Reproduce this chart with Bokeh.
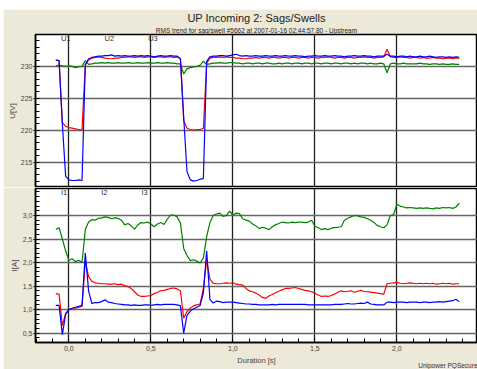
import numpy as np
from bokeh.plotting import figure
from bokeh.layouts import column
from bokeh.models import Range1d, FixedTicker, Title, Legend, LegendItem
from bokeh.embed import file_html
from bokeh.resources import INLINE

# ---------------- data ----------------
# sample times [s]: -0.08 ... 2.38, every 0.02 s
t = np.round(-0.08 + 0.02 * np.arange(124), 2)

u1_red = [
    231.0, 230.9, 221.2, 220.6, 220.4, 220.3, 220.2, 220.1, 220.0, 230.2,
    231.0, 231.3, 231.4, 231.5, 231.4, 231.3, 231.2, 231.2, 231.3, 231.3,
    231.4, 231.4, 231.5, 231.5, 231.4, 231.5, 231.5, 231.4, 231.5, 231.5,
    231.4, 231.5, 231.5, 231.4, 231.5, 231.5, 231.4, 231.5, 231.2, 221.5,
    220.3, 220.1, 220.0, 220.1, 220.1, 220.3, 230.5, 231.3, 231.4, 231.4,
    231.5, 231.4, 231.5, 231.4, 231.4, 231.3, 231.3, 231.2, 231.2, 231.3,
    231.3, 231.4, 231.3, 231.4, 231.4, 231.3, 231.4, 231.4, 231.3, 231.4,
    231.4, 231.3, 231.4, 231.4, 231.3, 231.4, 231.4, 231.3, 231.4, 231.4,
    231.3, 231.4, 231.4, 231.5, 231.4, 231.3, 231.4, 231.4, 231.3, 231.4,
    231.4, 231.3, 231.4, 231.4, 231.5, 231.4, 231.4, 231.3, 231.4, 231.4,
    231.5, 232.7, 231.5, 231.4, 231.4, 231.5, 231.4, 231.4, 231.3, 231.4,
    231.4, 231.3, 231.4, 231.3, 231.3, 231.4, 231.3, 231.3, 231.2, 231.3,
    231.3, 231.2, 231.3, 231.3,
]
u2_blue = [
    231.0, 230.9, 221.0, 212.8, 212.2, 212.1, 212.1, 212.2, 212.1, 230.3,
    231.2, 231.4, 231.5, 231.6, 231.6, 231.7, 231.7, 231.8, 231.6, 231.7,
    231.6, 231.7, 231.6, 231.6, 231.7, 231.6, 231.7, 231.6, 231.7, 231.6,
    231.5, 231.6, 231.7, 231.6, 231.6, 231.7, 231.6, 231.6, 231.2, 222.0,
    213.5, 212.2, 212.0, 212.1, 212.3, 212.4, 230.8, 231.5, 231.6, 231.6,
    231.7, 231.7, 231.6, 231.7, 231.8, 231.9, 231.7, 231.6, 231.7, 231.6,
    231.6, 231.7, 231.6, 231.6, 231.7, 231.6, 231.6, 231.7, 231.6, 231.6,
    231.7, 231.6, 231.6, 231.7, 231.6, 231.6, 231.5, 231.6, 231.6, 231.7,
    231.6, 231.6, 231.7, 231.6, 231.6, 231.7, 231.6, 231.6, 231.5, 231.6,
    231.6, 231.7, 231.6, 231.6, 231.7, 231.6, 231.6, 231.5, 231.6, 231.6,
    231.6, 231.9, 231.6, 231.6, 231.5, 231.6, 231.6, 231.5, 231.6, 231.5,
    231.5, 231.6, 231.5, 231.5, 231.6, 231.5, 231.4, 231.5, 231.5, 231.4,
    231.5, 231.4, 231.5, 231.4,
]
u3_green = [
    230.1, 230.2, 230.1, 230.0, 230.1, 230.0, 229.8, 229.9, 230.0, 230.9,
    230.3, 230.4, 230.5, 230.5, 230.6, 230.5, 230.6, 230.5, 230.5, 230.6,
    230.5, 230.5, 230.6, 230.5, 230.5, 230.6, 230.5, 230.5, 230.6, 230.5,
    230.5, 230.6, 230.5, 230.5, 230.6, 230.5, 230.5, 230.4, 230.4, 228.8,
    229.6, 229.8, 229.9, 230.0, 230.2, 230.8, 230.3, 230.4, 230.5, 230.5,
    230.6, 230.5, 230.5, 230.6, 230.6, 230.5, 230.5, 230.4, 230.5, 230.5,
    230.4, 230.5, 230.5, 230.4, 230.5, 230.5, 230.4, 230.4, 230.5, 230.4,
    230.5, 230.5, 230.4, 230.5, 230.5, 230.4, 230.5, 230.5, 230.4, 230.5,
    230.5, 230.4, 230.5, 230.5, 230.4, 230.5, 230.5, 230.4, 230.5, 230.5,
    230.4, 230.5, 230.4, 230.5, 230.5, 230.4, 230.5, 230.4, 230.4, 230.5,
    230.4, 229.0, 230.4, 230.5, 230.4, 230.4, 230.5, 230.4, 230.4, 230.4,
    230.4, 230.5, 230.4, 230.4, 230.3, 230.4, 230.4, 230.3, 230.4, 230.3,
    230.3, 230.4, 230.3, 230.3,
]

i1_red = [
    1.34, 1.33, 0.66, 0.92, 1.00, 1.03, 1.03, 1.05, 1.07, 2.02,
    1.70, 1.60, 1.57, 1.56, 1.55, 1.55, 1.54, 1.54, 1.55, 1.53,
    1.54, 1.51, 1.49, 1.45, 1.38, 1.31, 1.28, 1.28, 1.29, 1.30,
    1.34, 1.37, 1.40, 1.41, 1.43, 1.45, 1.46, 1.44, 1.40, 0.82,
    0.96, 1.03, 1.08, 1.10, 1.12, 1.45, 2.05, 1.65, 1.56, 1.55,
    1.55, 1.56, 1.57, 1.56, 1.57, 1.54, 1.53, 1.52, 1.45, 1.40,
    1.38, 1.35, 1.31, 1.26, 1.24, 1.29, 1.32, 1.36, 1.39, 1.42,
    1.45, 1.45, 1.46, 1.47, 1.45, 1.43, 1.41, 1.40, 1.38, 1.35,
    1.31, 1.28, 1.29, 1.28, 1.30, 1.33, 1.37, 1.40, 1.38, 1.39,
    1.40, 1.37, 1.39, 1.41, 1.39, 1.38, 1.37, 1.36, 1.35, 1.34,
    1.33, 1.55, 1.56, 1.57, 1.58, 1.56, 1.55, 1.56, 1.57, 1.56,
    1.55, 1.56, 1.55, 1.56, 1.55, 1.56, 1.54, 1.55, 1.56, 1.55,
    1.56, 1.54, 1.55, 1.55,
]
i2_blue = [
    1.09, 1.09, 0.47, 0.90, 1.00, 1.03, 1.05, 1.07, 1.09, 2.20,
    1.40, 1.13, 1.15, 1.15, 1.17, 1.21, 1.16, 1.15, 1.13, 1.12,
    1.11, 1.10, 1.10, 1.09, 1.10, 1.09, 1.09, 1.10, 1.10, 1.09,
    1.10, 1.11, 1.10, 1.11, 1.11, 1.11, 1.11, 1.10, 1.08, 0.50,
    0.88, 0.97, 1.02, 1.05, 1.09, 1.35, 2.25, 1.22, 1.14, 1.18,
    1.17, 1.15, 1.16, 1.16, 1.16, 1.15, 1.14, 1.13, 1.12, 1.12,
    1.11, 1.11, 1.10, 1.10, 1.10, 1.10, 1.11, 1.10, 1.11, 1.11,
    1.11, 1.11, 1.11, 1.11, 1.11, 1.11, 1.11, 1.10, 1.10, 1.10,
    1.10, 1.10, 1.10, 1.10, 1.10, 1.11, 1.11, 1.11, 1.12, 1.13,
    1.12, 1.12, 1.13, 1.14, 1.13, 1.16, 1.12, 1.11, 1.10, 1.10,
    1.10, 1.16, 1.16, 1.15, 1.16, 1.16, 1.16, 1.15, 1.16, 1.16,
    1.16, 1.15, 1.16, 1.16, 1.15, 1.16, 1.16, 1.17, 1.16, 1.17,
    1.18, 1.19, 1.22, 1.17,
]
i3_green = [
    2.70, 2.74, 2.50, 2.25, 2.05, 2.08, 2.02, 2.05, 2.00, 2.70,
    2.86, 2.91, 2.90, 2.94, 2.95, 2.97, 2.96, 2.93, 2.95, 2.94,
    2.90, 2.80, 2.83, 2.78, 2.71, 2.80, 2.85, 2.84, 2.86, 2.82,
    2.76, 2.82, 2.85, 2.81, 2.92, 3.01, 3.01, 2.97, 2.84, 2.30,
    2.15, 2.04, 2.06, 2.03, 1.99, 2.10, 2.55, 2.85, 3.00, 3.03,
    3.05, 2.98, 3.00, 3.09, 3.01, 3.05, 3.04, 2.93, 2.90, 2.88,
    2.82, 2.78, 2.72, 2.75, 2.73, 2.70, 2.76, 2.80, 2.83, 2.86,
    2.85, 2.84, 2.86, 2.85, 2.86, 2.86, 2.85, 2.86, 2.90, 2.77,
    2.74, 2.70, 2.72, 2.70, 2.73, 2.74, 2.75, 2.76, 2.90, 2.94,
    2.97, 3.00, 2.99, 2.97, 2.96, 2.93, 2.90, 2.85, 2.79, 2.76,
    2.74, 2.80, 3.00, 3.02, 3.24, 3.20, 3.18, 3.16, 3.17, 3.16,
    3.15, 3.16, 3.15, 3.16, 3.15, 3.14, 3.16, 3.15, 3.17, 3.16,
    3.17, 3.15, 3.18, 3.26,
]

for s in (u1_red, u2_blue, u3_green, i1_red, i2_blue, i3_green):
    assert len(s) == len(t), len(s)

u_names = ["U1", "U2", "U3"]
i_names = ["I1", "I2", "I3"]

x_ticks = [0.0, 0.5, 1.0, 1.5, 2.0, 2.5]
x_tick_labels = ["0,0", "0,5", "1,0", "1,5", "2,0", "2,5"]
u_ticks = [215, 220, 225, 230]
u_tick_labels = ["215", "220", "225", "230"]
i_ticks = [0.5, 1.0, 1.5, 2.0, 2.5, 3.0]
i_tick_labels = ["0,5", "1,0", "1,5", "2,0", "2,5", "3,0"]

title_text = "UP Incoming 2: Sags/Swells"
subtitle_text = "RMS trend for sag/swell #5662 at 2007-01-16 02:44:57.80 - Upstream"
footer_text = "Unipower PQSecure"

# ---------------- styling ----------------
FONT = "Liberation Sans"
BEIGE = "#ece9d8"
TXT = "#444444"
RED, BLUE, GREEN = "#ff0000", "#0000ff", "#008000"
LEFT_MARGIN = 3
W = 477 - LEFT_MARGIN
BORDER_L = 35 - LEFT_MARGIN

x_minor = [round(k * 0.1, 1) for k in range(-2, 26)]
u_minor = list(range(211, 236))
i_minor = [round(k * 0.1, 1) for k in range(3, 36)]

x_range = Range1d(-0.2037, 2.4915)


def style(p, yticks, ylabels, yminor, ylabel):
    p.border_fill_color = BEIGE
    p.background_fill_color = "white"
    p.outline_line_color = "black"
    p.outline_line_width = 1.5
    ax = p.yaxis[0]
    ax.ticker = FixedTicker(ticks=yticks, minor_ticks=yminor)
    ax.major_label_overrides = dict(zip(yticks, ylabels))
    ax.axis_label = ylabel
    ax.axis_label_text_font = FONT
    ax.axis_label_text_font_size = "8px"
    ax.axis_label_text_font_style = "normal"
    ax.axis_label_text_color = TXT
    ax.axis_label_standoff = 1
    ax.major_label_text_font = FONT
    ax.major_label_text_font_size = "7px"
    ax.major_label_text_color = TXT
    ax.major_label_standoff = 1
    ax.major_tick_in = 4
    ax.major_tick_out = 2
    ax.minor_tick_in = 4
    ax.minor_tick_out = 0
    ax.axis_line_color = "black"
    ax.axis_line_width = 1.5
    ax.major_tick_line_color = "black"
    ax.minor_tick_line_color = "black"
    p.ygrid.ticker = FixedTicker(ticks=yticks)
    p.ygrid.grid_line_color = "#666666"
    p.ygrid.grid_line_width = 1.6
    p.xgrid.ticker = FixedTicker(ticks=x_ticks)
    p.xgrid.grid_line_color = "#202020"
    p.xgrid.grid_line_width = 1.3


def add_legend(p, names):
    items = []
    for n in names:
        r = p.line(x=[], y=[], line_color="black", line_width=1.5)
        items.append(LegendItem(label=n, renderers=[r]))
    lg = Legend(items=items, orientation="horizontal", location="top_left",
                background_fill_alpha=0, border_line_color=None,
                padding=1, margin=0, spacing=8, label_standoff=5,
                glyph_width=21, glyph_height=7, label_height=7, label_width=0,
                label_text_font=FONT, label_text_font_size="7.5px",
                label_text_color="#333333")
    p.add_layout(lg)


# ---------------- top panel: voltages ----------------
p1 = figure(width=W, height=178, x_range=x_range, y_range=Range1d(211.0, 235.0),
            output_backend="svg", toolbar_location=None, title=None,
            min_border_left=BORDER_L, min_border_right=0, min_border_top=23, min_border_bottom=0)
style(p1, u_ticks, u_tick_labels, u_minor, "U[V]")
p1.xaxis.visible = False
p1.xaxis.ticker = FixedTicker(ticks=x_ticks)

p1.line(t, u3_green, line_color=GREEN, line_width=1.2)
p1.line(t, u1_red, line_color=RED, line_width=1.2)
p1.line(t, u2_blue, line_color=BLUE, line_width=1.2)
add_legend(p1, u_names)

sub = Title(text=subtitle_text, align="center", text_font=FONT, text_font_size="6.5px",
            text_font_style="normal", text_color="#222222", standoff=2, offset=-4)
main = Title(text=title_text, align="center", text_font=FONT, text_font_size="11px",
             text_font_style="normal", text_color="#222222", standoff=0, offset=-4)
p1.add_layout(sub, "above")
p1.add_layout(main, "above")

# ---------------- bottom panel: currents ----------------
p2 = figure(width=W, height=182, x_range=x_range, y_range=Range1d(0.302, 3.573),
            output_backend="svg", toolbar_location=None, title=None,
            min_border_left=BORDER_L, min_border_right=0, min_border_top=1, min_border_bottom=27)
style(p2, i_ticks, i_tick_labels, i_minor, "I[A]")
xa = p2.xaxis[0]
xa.ticker = FixedTicker(ticks=x_ticks, minor_ticks=x_minor)
xa.major_label_overrides = dict(zip(x_ticks, x_tick_labels))
xa.axis_label = "Duration [s]"
xa.axis_label_text_font = FONT
xa.axis_label_text_font_size = "7.5px"
xa.axis_label_text_font_style = "normal"
xa.axis_label_text_color = TXT
xa.axis_label_standoff = 2
xa.major_label_text_font = FONT
xa.major_label_text_font_size = "7px"
xa.major_label_text_color = TXT
xa.major_label_standoff = 3
xa.major_tick_in = 0
xa.major_tick_out = 0
xa.minor_tick_in = 4
xa.minor_tick_out = 0
xa.axis_line_color = "black"
xa.axis_line_width = 1.5
xa.minor_tick_line_color = "black"

p2.line(t, i3_green, line_color=GREEN, line_width=1.2)
p2.line(t, i1_red, line_color=RED, line_width=1.2)
p2.line(t, i2_blue, line_color=BLUE, line_width=1.2)
add_legend(p2, i_names)

footer = Title(text=footer_text, align="right", vertical_align="top", text_font=FONT,
               text_font_size="6.5px", text_font_style="normal", text_color="#333333",
               standoff=-12)
p2.add_layout(footer, "below")

layout = column(p1, p2, spacing=0, margin=(9, 0, 0, LEFT_MARGIN))
open("out.html", "w").write(file_html(layout, INLINE))
